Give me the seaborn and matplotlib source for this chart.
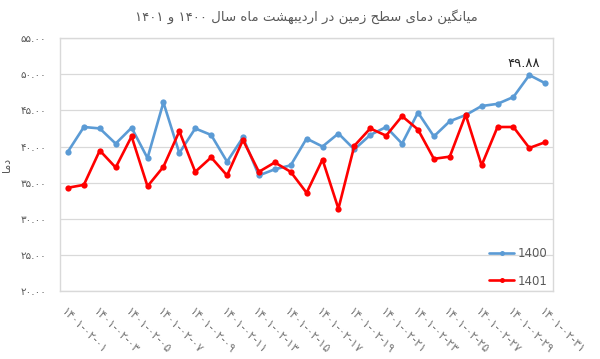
import pandas as pd
import numpy as np
import seaborn as sns
import matplotlib.pyplot as plt

# data (day 1..31 of Ordibehesht)
days = list(range(1, 32))
temp_1400 = [39.3, 42.7, 42.5, 40.4, 42.6, 38.4, 46.1, 39.1, 42.5, 41.6,
             37.9, 41.25, 36.0, 36.85, 37.4, 41.1, 40.0, 41.8, 39.6, 41.6,
             42.7, 40.4, 44.7, 41.4, 43.5, 44.35, 45.6, 45.9, 46.85, 49.88,
             48.75]
temp_1401 = [34.3, 34.7, 39.45, 37.1, 41.4, 34.5, 37.2, 42.1, 36.5, 38.5,
             36.0, 40.9, 36.5, 37.8, 36.5, 33.6, 38.2, 31.4, 40.1, 42.5,
             41.5, 44.2, 42.35, 38.3, 38.6, 44.4, 37.4, 42.7, 42.7, 39.8,
             40.6]
series_names = ["1400", "1401"]
series_colors = ["#5b9bd5", "#ff0000"]
y_ticks = [20, 25, 30, 35, 40, 45, 50, 55]

FA_DIGITS = "۰۱۲۳۴۵۶۷۸۹"


def fa_num(s):
    return "".join(FA_DIGITS[int(c)] if c.isdigit() else c for c in s)


# minimal persian shaping (isolated, final, initial, medial)
FORMS = {
    "ا": ("\uFE8D", "\uFE8E", None, None),
    "ب": ("\uFE8F", "\uFE90", "\uFE91", "\uFE92"),
    "ت": ("\uFE95", "\uFE96", "\uFE97", "\uFE98"),
    "ح": ("\uFEA1", "\uFEA2", "\uFEA3", "\uFEA4"),
    "د": ("\uFEA9", "\uFEAA", None, None),
    "ر": ("\uFEAD", "\uFEAE", None, None),
    "ز": ("\uFEAF", "\uFEB0", None, None),
    "س": ("\uFEB1", "\uFEB2", "\uFEB3", "\uFEB4"),
    "ش": ("\uFEB5", "\uFEB6", "\uFEB7", "\uFEB8"),
    "ط": ("\uFEC1", "\uFEC2", "\uFEC3", "\uFEC4"),
    "ل": ("\uFEDD", "\uFEDE", "\uFEDF", "\uFEE0"),
    "م": ("\uFEE1", "\uFEE2", "\uFEE3", "\uFEE4"),
    "ن": ("\uFEE5", "\uFEE6", "\uFEE7", "\uFEE8"),
    "ه": ("\uFEE9", "\uFEEA", "\uFEEB", "\uFEEC"),
    "و": ("\uFEED", "\uFEEE", None, None),
    "ی": ("\uFBFC", "\uFBFD", "\uFBFE", "\uFBFF"),
    "گ": ("\uFB92", "\uFB93", "\uFB94", "\uFB95"),
}


def shape_word(w):
    out = []
    for i, c in enumerate(w):
        if c not in FORMS:
            out.append(c)
            continue
        prev = w[i - 1] if i > 0 else None
        nxt = w[i + 1] if i + 1 < len(w) else None
        join_prev = prev in FORMS and FORMS[prev][2] is not None
        join_next = nxt in FORMS and FORMS[c][2] is not None
        iso, fin, ini, med = FORMS[c]
        if join_prev and join_next:
            out.append(med)
        elif join_prev:
            out.append(fin)
        elif join_next:
            out.append(ini)
        else:
            out.append(iso)
    return "".join(out)


def rtl(text):
    words = []
    for w in text.split(" "):
        if any(c in FORMS for c in w):
            words.append(shape_word(w)[::-1])
        else:
            words.append(w)
    return " ".join(words[::-1])


title = "میانگین دمای سطح زمین در اردیبهشت ماه سال ۱۴۰۰ و ۱۴۰۱"
ylabel = "دما"

pdData = pd.DataFrame({
    "idx": list(range(len(days))) * 2,
    "temp": temp_1400 + temp_1401,
    "year": [series_names[0]] * len(days) + [series_names[1]] * len(days),
})

sns.set_style("white")
plt.rcParams["font.family"] = ["DejaVu Sans"]

fig = plt.figure(figsize=(6, 3.59), dpi=100)
ax = fig.add_axes([0.1, 0.189, 0.822, 0.705])

sns.lineplot(data=pdData, x="idx", y="temp", hue="year",
             palette=series_colors, marker="o", markersize=4.5,
             markeredgewidth=0, linewidth=1.9, ax=ax)

ax.set_xlim(-0.5, len(days) - 0.5)
ax.set_ylim(20, 55)
ax.set_yticks(y_ticks)
ax.set_yticklabels([fa_num("%.2f" % v) for v in y_ticks],
                   fontsize=7.5, color="#595959")
xt = list(range(0, len(days), 2))
ax.set_xticks(xt)
ax.set_xticklabels([fa_num("1401-02-%02d" % days[i]) for i in xt],
                   rotation=-45, ha="left", va="top", rotation_mode="anchor",
                   fontsize=8.5, color="#7a7a7a")
ax.tick_params(axis="y", length=0, pad=10)
ax.tick_params(axis="x", length=0, pad=10)
ax.grid(axis="y", color="#d9d9d9", linewidth=0.9)
for sp in ax.spines.values():
    sp.set_color("#d9d9d9")
    sp.set_linewidth(1.0)
ax.set_xlabel("")
ax.set_ylabel(rtl(ylabel), fontsize=8, color="#595959", labelpad=6)

# data label on the peak
ax.annotate(fa_num("%.2f" % temp_1400[29]), (29, temp_1400[29]),
            xytext=(-4, 4), textcoords="offset points", ha="center",
            va="bottom", fontsize=9.5, color="#262626")

leg = ax.legend(loc="lower right", frameon=False, fontsize=8.5,
                handlelength=2.1, labelspacing=1.2, handletextpad=0.3,
                markerscale=0.8, bbox_to_anchor=(1.01, -0.028))
for t in leg.get_texts():
    t.set_color("#595959")

fig.text(0.51, 0.953, rtl(title), ha="center", va="center",
         fontsize=9.5, color="#595959")

fig.savefig("out.png", dpi=100, facecolor="white")
